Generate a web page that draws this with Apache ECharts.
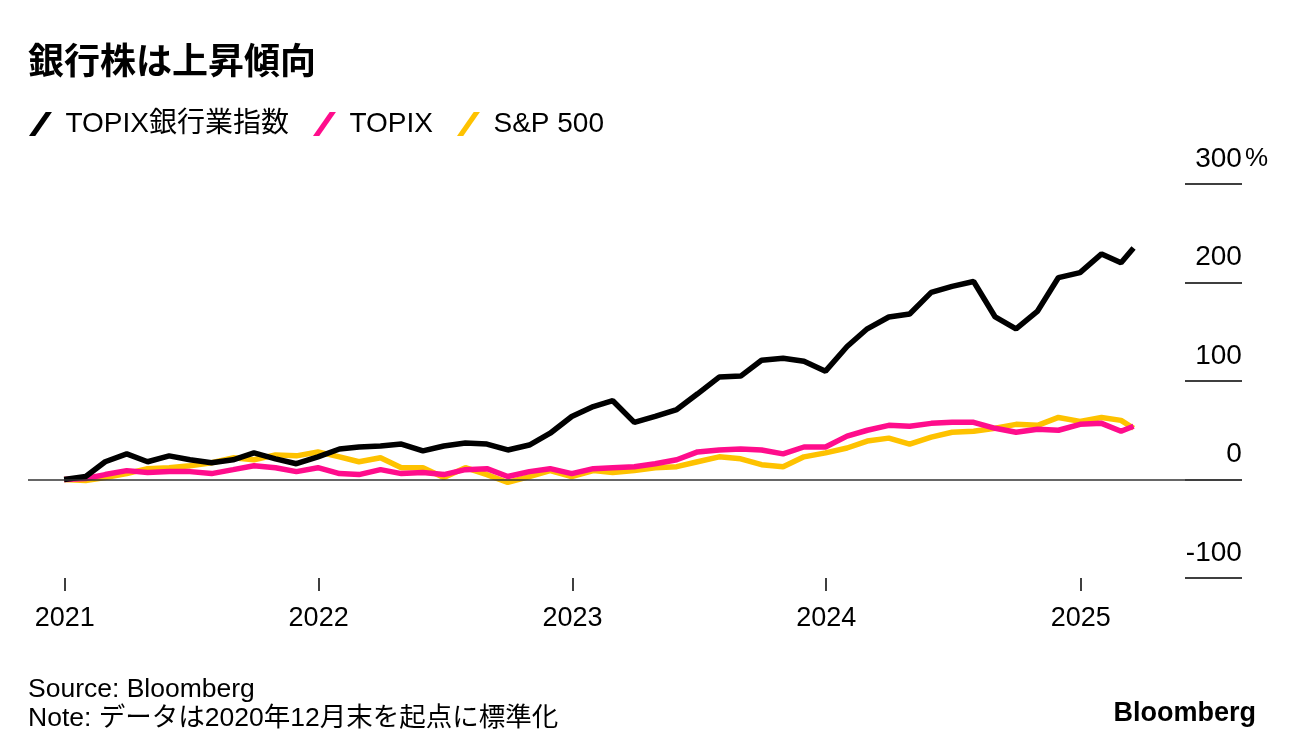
<!DOCTYPE html>
<html>
<head>
<meta charset="utf-8">
<script src="https://cdn.jsdelivr.net/npm/echarts@6/dist/echarts.min.js"></script>
<style>
html,body{margin:0;padding:0;background:#fff;}
#c{width:1296px;height:756px;}
</style>
</head>
<body>
<div id="c"></div>
<script>
const dates = ['2020-12-31','2021-01-31','2021-02-28','2021-03-31','2021-04-30','2021-05-31','2021-06-30','2021-07-31','2021-08-31','2021-09-30','2021-10-31','2021-11-30','2021-12-31',
'2022-01-31','2022-02-28','2022-03-31','2022-04-30','2022-05-31','2022-06-30','2022-07-31','2022-08-31','2022-09-30','2022-10-31','2022-11-30','2022-12-31',
'2023-01-31','2023-02-28','2023-03-31','2023-04-30','2023-05-31','2023-06-30','2023-07-31','2023-08-31','2023-09-30','2023-10-31','2023-11-30','2023-12-31',
'2024-01-31','2024-02-29','2024-03-31','2024-04-30','2024-05-31','2024-06-30','2024-07-31','2024-08-31','2024-09-30','2024-10-31','2024-11-30','2024-12-31',
'2025-01-31','2025-02-28','2025-03-18'];
const topixBanks = [0,3,18,26,18,24,20,17,20,27,21,16,23,31,33,34,36,29,34,37,36,30,35,47,64,74,80,58,64,71,87,104,105,121,123,120,110,135,153,165,168,190,196,201,165,153,171,205,210,229,220,235];
const topix = [0,1,5,9,7,8,8,6,10,14,12,8,12,6,5,10,6,7,5,10,11,3,8,11,6,11,12,13,16,20,28,30,31,30,26,33,33,44,50,55,54,57,58,58,52,48,51,50,56,57,49,54];
const sp500 = [0,-1,2,6,11,12,14,17,22,20,25,24,28,23,18,22,12,12,2,12,5,-3,3,9,3,9,7,9,12,13,18,23,21,15,13,23,27,32,39,42,36,43,48,49,52,56,55,63,59,63,60,52];
const yearTicks = ['2021-01-01','2022-01-01','2023-01-01','2024-01-01','2025-01-01'];
const yearLabels = ['2021','2022','2023','2024','2025'];
const names = ['TOPIX銀行業指数','TOPIX','S&P 500'];
const colors = ['#000000','#ff0d8c','#fec200'];

const FONT = "'Liberation Sans', 'Noto Sans CJK JP', sans-serif";
const toTs = s => { const p = s.split('-').map(Number); return Date.UTC(p[0], p[1]-1, p[2]); };
const pair = arr => dates.map((d,i)=>[toTs(d), arr[i]]);
const tickTs = yearTicks.map(toTs);
const labelFor = v => { const i = tickTs.indexOf(v); return i >= 0 ? yearLabels[i] : ''; };
const slash = 'path://M0,23 L16,0 L22,0 L6,23 Z';

const chart = echarts.init(document.getElementById('c'), null, {renderer:'canvas'});
chart.setOption({
  animation:false,
  backgroundColor:'#fff',
  textStyle:{fontFamily:FONT},
  title:{
    text:'銀行株は上昇傾向', left:28, top:46, padding:0,
    textStyle:{fontFamily:FONT, fontSize:36, fontWeight:'bold', color:'#000'}
  },
  legend:{
    data:names.map((n,i)=>({name:n, icon:slash, itemStyle:{color:colors[i]}})),
    left:29, top:110, padding:0,
    itemWidth:24, itemHeight:24, itemGap:24,
    textStyle:{fontFamily:FONT, fontSize:28, color:'#000', padding:[0,0,0,8]}
  },
  grid:{left:28, right:111, top:184, bottom:178, containLabel:false},
  xAxis:{
    type:'value',
    min:toTs('2020-11-09'), max:toTs('2025-05-31'),
    axisLine:{show:false, onZero:false},
    splitLine:{show:false},
    axisTick:{show:true, length:13, lineStyle:{color:'#000', width:1.5}, customValues:tickTs},
    axisLabel:{
      customValues:tickTs,
      formatter:labelFor,
      fontFamily:FONT, fontSize:27, color:'#000', margin:27
    }
  },
  yAxis:{
    type:'value', position:'right',
    min:-100, max:300, interval:100,
    axisLine:{show:false},
    splitLine:{show:false},
    axisTick:{show:true, length:57, lineStyle:{color:'#000', width:1.5}},
    axisLabel:{
      inside:false, margin:83, align:'right', verticalAlign:'bottom',
      padding:[0,0,11,0],
      fontFamily:FONT, fontSize:28, color:'#000',
      formatter:v=> v===300 ? '300{g|%}' : String(v)+'{h|%}',
      rich:{
        g:{fontFamily:FONT, fontSize:26, color:'#000', padding:[0,0,0,3]},
        h:{fontFamily:FONT, fontSize:26, color:'rgba(0,0,0,0)', padding:[0,0,0,3]}
      }
    }
  },
  series:[
    {name:names[2], type:'line', data:pair(sp500), showSymbol:false, symbol:'none',
     lineStyle:{color:colors[2], width:5.5}, itemStyle:{color:colors[2]},
     markLine:{silent:true, symbol:['none','none'], label:{show:false},
       lineStyle:{color:'#333', width:1.5, type:'solid'}, data:[{yAxis:0}]}},
    {name:names[1], type:'line', data:pair(topix), showSymbol:false, symbol:'none',
     lineStyle:{color:colors[1], width:5.5}, itemStyle:{color:colors[1]}},
    {name:names[0], type:'line', data:pair(topixBanks), showSymbol:false, symbol:'none',
     lineStyle:{color:colors[0], width:5.5}, itemStyle:{color:colors[0]}}
  ],
  graphic:[
    {type:'text', left:28, top:676, style:{text:'Source: Bloomberg', fontFamily:FONT, fontSize:26.5, fill:'#000'}},
    {type:'text', left:28, top:705, style:{text:'Note: データは2020年12月末を起点に標準化', fontFamily:FONT, fontSize:26.5, fill:'#000'}},
    {type:'text', right:40, top:700, style:{text:'Bloomberg', fontFamily:FONT, fontSize:27, fontWeight:'bold', fill:'#000'}}
  ]
});
</script>
</body>
</html>
